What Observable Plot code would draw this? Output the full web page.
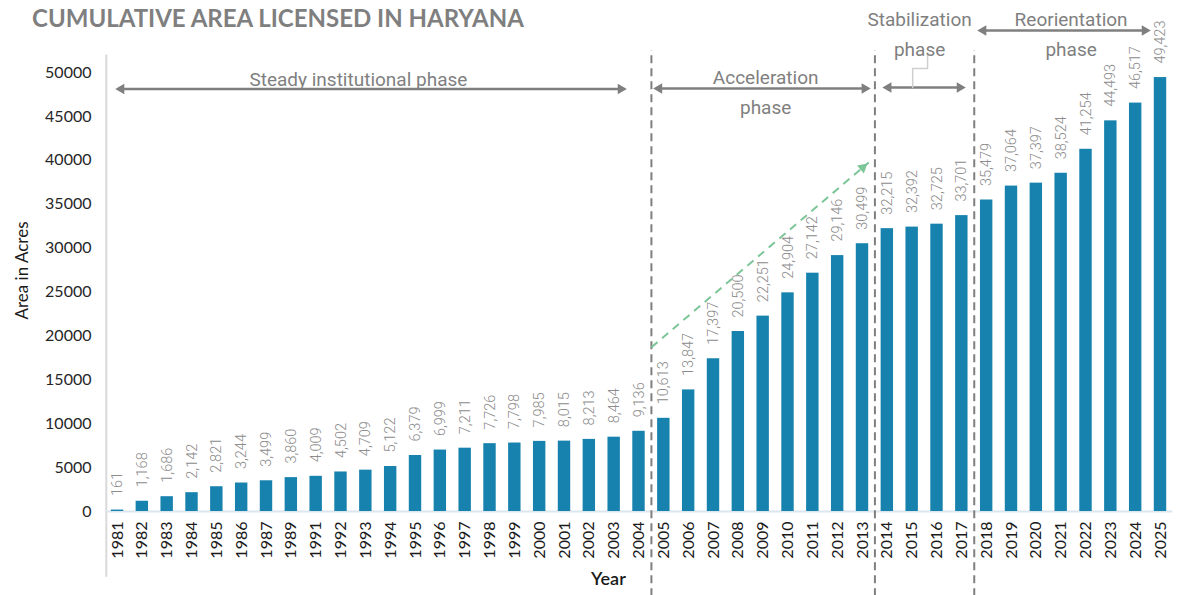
<!DOCTYPE html>
<html>
<head>
<meta charset="utf-8">
<script src="https://cdn.jsdelivr.net/npm/d3@7"></script>
<script src="https://cdn.jsdelivr.net/npm/@observablehq/plot@0.6"></script>
<style>
  body { margin: 0; background: #fff; }
  #wrap { position: relative; width: 1185px; height: 595px; overflow: hidden; }
  #title { position: absolute; left: 32px; top: 3px; font: 700 24px Lato, sans-serif; color: #7f7f7f; }
  #chart { position: absolute; left: 0; top: 0; }
</style>
</head>
<body>
<div id="wrap">
  <div id="chart"></div>
  <div id="title">CUMULATIVE AREA LICENSED IN HARYANA</div>
</div>
<script>
// ---- data ----
const years = ["1981","1982","1983","1984","1985","1986","1987","1989","1991","1992","1993","1994","1995","1996","1997","1998","1999","2000","2001","2002","2003","2004","2005","2006","2007","2008","2009","2010","2011","2012","2013","2014","2015","2016","2017","2018","2019","2020","2021","2022","2023","2024","2025"];
const areas = [161,1168,1686,2142,2821,3244,3499,3860,4009,4502,4709,5122,6379,6999,7211,7726,7798,7985,8015,8213,8464,9136,10613,13847,17397,20500,22251,24904,27142,29146,30499,32215,32392,32725,33701,35479,37064,37397,38524,41254,44493,46517,49423];
const yTicks = [0,5000,10000,15000,20000,25000,30000,35000,40000,45000,50000];
// phase boundaries: last year of one phase, first year of the next
const phaseBreaks = [["2004","2005"],["2013","2014"],["2017","2018"]];
// phase annotations (x in year-index units, y in acres)
const phaseLabels = [
  {text: "Steady institutional phase", x: 9.7, y: 49540},
  {text: "Acceleration\nphase", x: 26.1, y: 48060},
  {text: "Stabilization\nphase", x: 32.3, y: 54730},
  {text: "Reorientation\nphase", x: 38.4, y: 54730}
];
const phaseArrows = [
  {x1: -0.16, x2: 20.58, y: 48120},
  {x1: 21.5, x2: 30.4, y: 48180},
  {x1: 30.73, x2: 34.23, y: 48290},
  {x1: 34.55, x2: 41.68, y: 54780}
];
const leader = [{x: 32.62, y: 52160}, {x: 32.62, y: 50450}, {x: 32.02, y: 50450}, {x: 32.02, y: 48290}];
const trend = {x1: 21.5, y1: 18700, x2: 30.25, y2: 39750};

// ---- layout ----
const W = 1185, H = 595;
const xDomain = [0, years.length - 1], xRange = [117, 1160];
const yDomain = [0, 50000], yRange = [511, 72];
const xs = d3.scaleLinear(xDomain, xRange), ys = d3.scaleLinear(yDomain, yRange);

const data = years.map((y, i) => ({i, year: y, area: areas[i]}));
const breaks = phaseBreaks.map(([a, b]) => (years.indexOf(a) + years.indexOf(b)) / 2);

const grey = "#7f7f7f";
const headR = 5;
const tip = headR * Math.sqrt(Math.PI) * Math.sqrt(4 / Math.sqrt(3)) * Math.sqrt(3) / 2 * 2 / 3;

// green arrow angle (screen space)
const gx = xs(trend.x2) - xs(trend.x1), gy = ys(trend.y2) - ys(trend.y1);
const glen = Math.hypot(gx, gy);
const gAngle = Math.atan2(gy, gx) * 180 / Math.PI + 90;

const fmt = d3.format(",");

const plot = Plot.plot({
  width: W, height: H,
  marginLeft: 105, marginRight: 13, marginTop: 72, marginBottom: 84,
  x: {type: "linear", domain: xDomain, range: xRange},
  y: {domain: yDomain, range: yRange},
  style: {fontFamily: "Lato, sans-serif", background: "#fff", overflow: "visible"},
  marks: [
    // axis lines
    Plot.ruleX([-0.45], {y1: -7500, y2: 52000, stroke: "#d9d9d9", strokeWidth: 2}),
    Plot.ruleY([0], {x1: -0.45, x2: 42.5, stroke: "#dbe6ee", strokeWidth: 2}),
    // bars
    Plot.rectY(data, {x1: d => d.i - 0.25, x2: d => d.i + 0.25, y: "area", fill: "#1782ad"}),
    // value labels
    Plot.text(data, {x: "i", y: "area", text: d => fmt(d.area), rotate: -90, textAnchor: "start", lineAnchor: "middle", dy: -14, fontSize: 14.5, fontWeight: 300, fill: "#8c8c8c", fontFamily: "Roboto, sans-serif"}),
    // axes
    Plot.axisY({ticks: yTicks, tickFormat: d => String(d), tickSize: 0, tickPadding: 14, fontSize: 16, fill: "#262626", label: null}),
    Plot.axisX({ticks: d3.range(years.length), tickFormat: i => years[i], tickRotate: -90, tickSize: 0, tickPadding: 10, fontSize: 16, fill: "#1a1a1a", label: null}),
    Plot.text(["Year"], {x: 19.77, y: -7745, fontSize: 18, fontWeight: 600, fill: "#1a1a1a"}),
    Plot.text(["Area in Acres"], {x: -3.83, y: 27450, rotate: -90, fontSize: 17, fill: "#1a1a1a"}),
    // phase dividers
    Plot.ruleX(breaks, {y1: -9700, y2: 52500, stroke: grey, strokeWidth: 2, strokeDasharray: "8,5"}),
    // green trend arrow
    Plot.link([trend], {x1: "x1", y1: "y1", x2: "x2", y2: "y2", stroke: "#7cc598", strokeWidth: 2, strokeDasharray: "8,6"}),
    Plot.dot([trend], {x: "x2", y: "y2", symbol: "triangle2", r: headR, rotate: gAngle, fill: "#7cc598", stroke: "none",
      dx: -tip * gx / glen, dy: -tip * gy / glen}),
    // phase arrows
    Plot.ruleY(phaseArrows, {x1: d => d.x1 + 0.2, x2: d => d.x2 - 0.2, y: "y", stroke: grey, strokeWidth: 2.5}),
    Plot.dot(phaseArrows, {x: "x2", y: "y", symbol: "triangle2", r: headR, rotate: 90, fill: grey, stroke: "none", dx: -tip}),
    Plot.dot(phaseArrows, {x: "x1", y: "y", symbol: "triangle2", r: headR, rotate: -90, fill: grey, stroke: "none", dx: tip}),
    Plot.line(leader, {x: "x", y: "y", stroke: "#cfcfcf", strokeWidth: 1.5}),
    // phase labels
    Plot.text(phaseLabels, {x: "x", y: "y", text: "text", lineAnchor: "middle", lineHeight: 1.6, fontSize: 19, fill: grey, fontFamily: "Roboto, sans-serif"})
  ]
});
document.getElementById("chart").appendChild(plot);
</script>
</body>
</html>
